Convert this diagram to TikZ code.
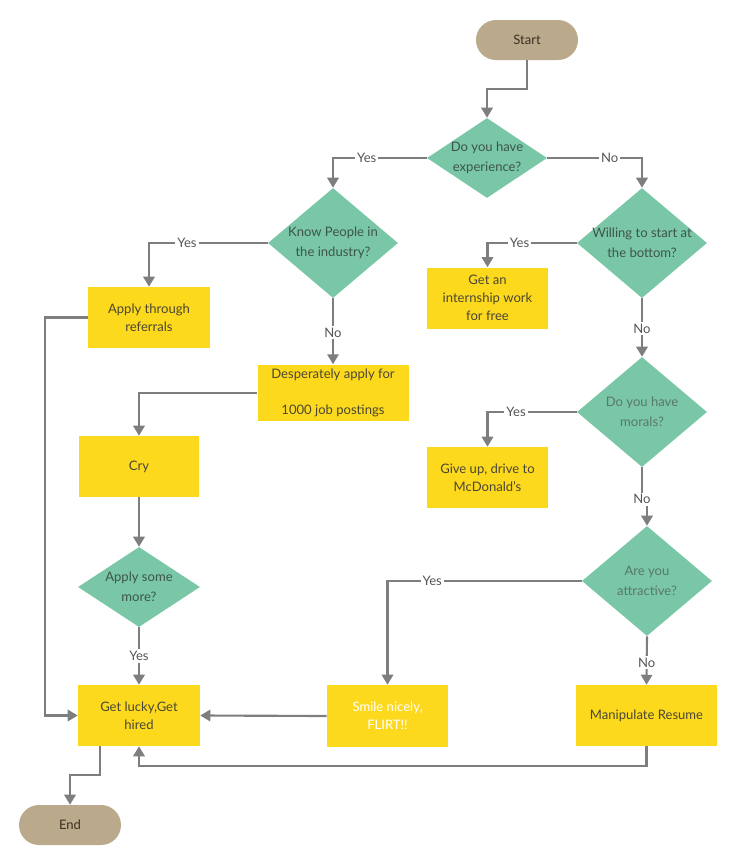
\documentclass[tikz,border=0pt]{standalone}
\usepackage{fontspec}
\setmainfont{Lato}
\usetikzlibrary{shapes.geometric}
\usetikzlibrary{arrows.meta}
\definecolor{termfill}{HTML}{BAA98B}
\definecolor{boxfill}{HTML}{FDD91E}
\definecolor{askfill}{HTML}{79C7A7}
\definecolor{linegray}{HTML}{7E7E7E}
\definecolor{termtext}{HTML}{3B3124}
\definecolor{boxtext}{HTML}{4A4733}
\definecolor{asktext}{HTML}{3E5549}
\definecolor{asklight}{HTML}{5A7868}
\definecolor{anstext}{HTML}{555555}
\tikzset{
every node/.style={ % Shared text settings
font=\fontsize{9.8}{13.5}\selectfont,
align=center},
terminal/.style={ % Start and end pills
rectangle, rounded corners=15pt,
fill=termfill, text=termtext,
minimum width=76.5pt, minimum height=30pt},
process/.style={ % Yellow action boxes
rectangle, fill=boxfill, text=boxtext,
minimum width=91.5pt, minimum height=45.75pt},
decision/.style={ % Green questions
diamond, fill=askfill, text=asktext,
font=\fontsize{9.8}{15}\selectfont,
inner sep=-3pt, aspect=1.18,
minimum width=97.5pt, minimum height=82.5pt},
small ask/.style={
aspect=1.5, minimum width=90pt, minimum height=60pt},
flow/.style={ % Connectors
draw=linegray, line width=1.6pt,
-{Triangle[length=7.5pt,width=8.5pt]}},
answer/.style={ % Yes / No on the lines
fill=white, text=anstext, inner sep=1.5pt}}
\begin{document}
\begin{tikzpicture}[x=0.75pt, y=-0.75pt]
	\useasboundingbox (0,0) rectangle (736,865);
	\node[terminal] (start) at (527,40) {Start};
	\node[decision, small ask] (exp) at (487,158) {Do you have\\experience?};
	\node[decision] (know) at (333,243) {Know People in\\the industry?};
	\node[decision] (will) at (642,243) {Willing to start at\\the bottom?};
	\node[process] (refer) at (149,317.5) {Apply through\\referrals};
	\node[process, minimum width=90.75pt] (intern) at (487.5,298) {Get an\\internship work\\for free};
	\node[process, minimum width=113.25pt, minimum height=38.25pt] (desp) at (333,393) {Desperately apply for\\[13.5pt]1000 job postings};
	\node[decision, text=asklight] (moral) at (642,412) {Do you have\\morals?};
	\node[process, minimum width=90.75pt] (giveup) at (487.5,477.5) {Give up, drive to\\McDonald's};
	\node[process, minimum width=90pt] (cry) at (139,466.5) {Cry};
	\node[decision, small ask, minimum width=91.5pt] (more) at (139,587) {Apply some\\more?};
	\node[decision, text=asklight] (attract) at (647,581) {Are you\\attractive?};
	\node[process] (lucky) at (139,715.5) {Get lucky,Get\\hired};
	\node[process, minimum width=90.75pt, minimum height=46.5pt, text=white] (smile) at (387.5,716) {Smile nicely,\\FLIRT!!};
	\node[process, minimum width=105.75pt] (manip) at (646.5,715.5) {Manipulate Resume};
	\node[terminal] (end) at (70,825) {End};
	\draw[flow] (start.south) -- ++(0,29) -| (exp.north);
	\draw[flow] (exp.west) -| node[answer, pos=0.32] {Yes} (know.north);
	\draw[flow] (exp.east) -| node[answer, pos=0.33] {No} (will.north);
	\draw[flow] (know.west) -| node[answer, pos=0.34] {Yes} (refer.north);
	\draw[flow] (know.south) -- node[answer, pos=0.52] {No} (desp.north);
	\draw[flow] (desp.west) -| (cry.north);
	\draw[flow] (cry) -- (more);
	\draw[flow] (more) -- node[answer] {Yes} (lucky);
	\draw[flow] (refer.west) -- ++(-43,0) |- (lucky.west);
	\draw[flow] (will.west) -| node[answer, pos=0.32] {Yes} (intern.north);
	\draw[flow] (will.south) -- node[answer, pos=0.52] {No} (moral.north);
	\draw[flow] (moral.west) -| node[answer, pos=0.34] {Yes} (giveup.north);
	\draw[flow] (moral.south) -- ++(0,32) node[answer] {No} -| (attract.north);
	\draw[flow] (attract.west) -| node[answer, pos=0.385] {Yes} (smile.north);
	\draw[flow] (attract.south) -- node[answer, pos=0.54] {No} (manip.north);
	\draw[flow] (smile.west) -- (lucky.east);
	\draw[flow] (manip.south) -- ++(0,20) -| (lucky.south);
	\draw[flow] (lucky.south) ++(-39,0) -- ++(0,29) -| (end.north);
\end{tikzpicture}
\end{document}
